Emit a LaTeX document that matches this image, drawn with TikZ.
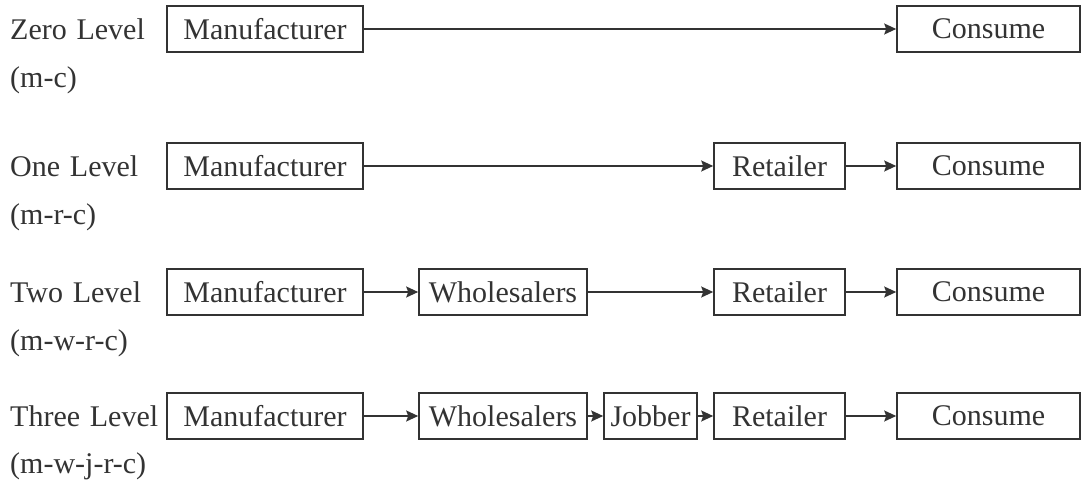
\documentclass[tikz,border=0pt]{standalone}
\usepackage{fontspec}
\setmainfont{Liberation Serif}[WordSpace=1.3]
\usetikzlibrary{arrows.meta}
\definecolor{ink}{HTML}{333333}
\tikzset{
  stage/.style={draw=ink, line width=1.6pt, minimum height=46pt, inner sep=0pt,
    text=ink, font=\fontsize{30}{35}\selectfont},
  lvl/.style={anchor=west, inner sep=0pt, text=ink, font=\fontsize{30}{35}\selectfont},
  flow/.style={draw=ink, line width=1.5pt, -{Stealth[length=12pt,width=11pt,inset=2pt]}}
}
\begin{document}
\begin{tikzpicture}[x=1pt,y=-1pt]
\useasboundingbox (0,0) rectangle (1084,486);
% level captions
\node[lvl] (l1) at (10,29) {Zero Level};
\node[lvl] (c1) at (10,80) {(m-c)};
\node[lvl] (l2) at (10,166) {One Level};
\node[lvl] (c2) at (10,217) {(m-r-c)};
\node[lvl] (l3) at (10,292) {Two Level};
\node[lvl] (c3) at (10,343) {(m-w-r-c)};
\node[lvl] (l4) at (10,416) {Three Level};
\node[lvl] (c4) at (10,466) {(m-w-j-r-c)};
% zero level
\node[stage, minimum width=196pt] (m1) at (265,29) {Manufacturer};
\node[stage, minimum width=183pt] (k1) at (988.5,29) {Consume};
\draw[flow] (m1) -- (k1);
% one level
\node[stage, minimum width=196pt] (m2) at (265,166) {Manufacturer};
\node[stage, minimum width=131pt] (r2) at (779.5,166) {Retailer};
\node[stage, minimum width=183pt] (k2) at (988.5,166) {Consume};
\draw[flow] (m2) -- (r2);
\draw[flow] (r2) -- (k2);
% two level
\node[stage, minimum width=196pt] (m3) at (265,292) {Manufacturer};
\node[stage, minimum width=168pt] (w3) at (503,292) {Wholesalers};
\node[stage, minimum width=131pt] (r3) at (779.5,292) {Retailer};
\node[stage, minimum width=183pt] (k3) at (988.5,292) {Consume};
\draw[flow] (m3) -- (w3);
\draw[flow] (w3) -- (r3);
\draw[flow] (r3) -- (k3);
% three level
\node[stage, minimum width=196pt] (m4) at (265,416) {Manufacturer};
\node[stage, minimum width=168pt] (w4) at (503,416) {Wholesalers};
\node[stage, minimum width=93pt] (j4) at (650.5,416) {Jobber};
\node[stage, minimum width=131pt] (r4) at (779.5,416) {Retailer};
\node[stage, minimum width=183pt] (k4) at (988.5,416) {Consume};
\draw[flow] (m4) -- (w4);
\draw[flow] (w4) -- (j4);
\draw[flow] (j4) -- (r4);
\draw[flow] (r4) -- (k4);
\end{tikzpicture}
\end{document}
